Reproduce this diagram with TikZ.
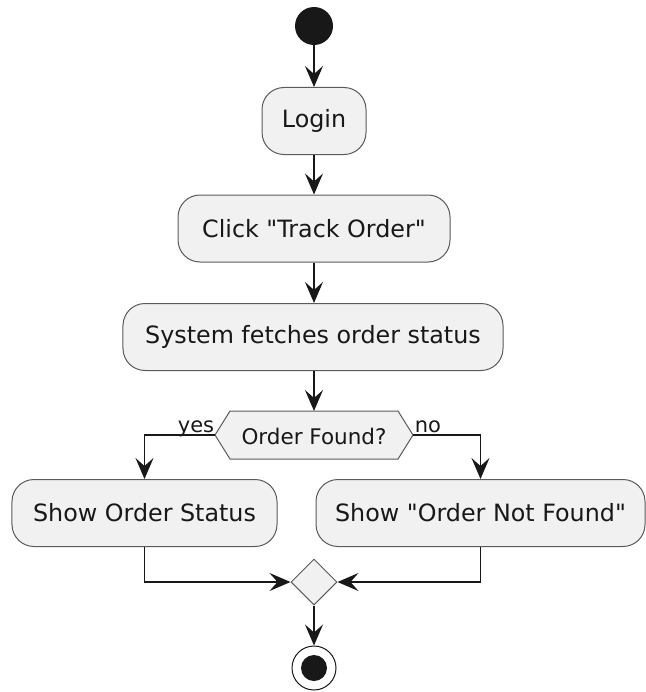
\documentclass[tikz,border=0pt]{standalone}
\usepackage{fontspec}
\setmainfont{DejaVu Sans}
\usetikzlibrary{arrows.meta,shapes.geometric}

\definecolor{boxfill}{HTML}{F1F1F1}
\definecolor{ink}{HTML}{181818}
\definecolor{edge}{HTML}{5A5A5A}

\tikzset{
  actbox/.style={draw=edge, line width=1bp, fill=boxfill, rounded corners=22bp,
    minimum height=67bp, inner sep=0pt, text=ink,
    font=\fontsize{23.8bp}{28bp}\selectfont},
  flow/.style={draw=ink, line width=1.6bp,
    -{Stealth[length=21bp,width=18bp,inset=8bp]}},
  guard/.style={inner sep=0pt, text=ink, anchor=base,
    font=\fontsize{21bp}{24bp}\selectfont},
}

\begin{document}
\begin{tikzpicture}[x=1bp,y=-1bp]
  \useasboundingbox (0,0) rectangle (646,692);

  % initial node
  \node[circle, fill=ink, minimum size=38bp, inner sep=0pt] (start) at (314,26) {};

  % actions
  \node[actbox, minimum width=104bp] (login) at (314,121) {Login};
  \node[actbox, minimum width=272bp] (click) at (314,228.5) {Click \textquotedbl Track Order\textquotedbl};
  \node[actbox, minimum width=380bp] (sys) at (313,337) {System fetches order status};

  % decision
  \coordinate (decT) at (314,411);
  \coordinate (decL) at (215,435);
  \coordinate (decR) at (413,435);
  \filldraw[draw=edge, line width=1bp, fill=boxfill]
    (decL) -- (230,411) -- (398,411) -- (decR) -- (398,459) -- (230,459) -- cycle;
  \node[inner sep=0pt, text=ink, font=\fontsize{21.5bp}{24bp}\selectfont] (dec) at (314,436) {Order Found?};

  % branch actions
  \node[actbox, minimum width=265bp] (sos) at (144.5,513) {Show Order Status};
  \node[actbox, minimum width=329bp] (snf) at (480.5,513) {Show \textquotedbl Order Not Found\textquotedbl};

  % merge
  \node[diamond, draw=edge, line width=1bp, fill=boxfill, minimum width=46bp,
        minimum height=46bp, inner sep=0pt, shape aspect=1] (merge) at (314,582) {};

  % final node
  \node[circle, draw=ink, line width=1bp, minimum size=44bp, inner sep=0pt] (stop) at (314,668) {};
  \node[circle, fill=ink, minimum size=26bp, inner sep=0pt] (stopdot) at (314,668) {};

  % guards
  \node[guard] (yes) at (196,432) {yes};
  \node[guard] (no) at (428,432) {no};

  % connectors
  \draw[flow] (start) -- (login);
  \draw[flow] (login) -- (click);
  \draw[flow] (click) -- (decT |- sys.north);
  \draw[flow] (sys.south -| decT) -- (decT);
  \draw[flow] (decL) -| (sos.north);
  \draw[flow] (decR) -| (snf.north);
  \draw[flow] (sos.south) |- (merge.west);
  \draw[flow] (snf.south) |- (merge.east);
  \draw[flow] (merge.south) -- (stop.north);
\end{tikzpicture}
\end{document}
